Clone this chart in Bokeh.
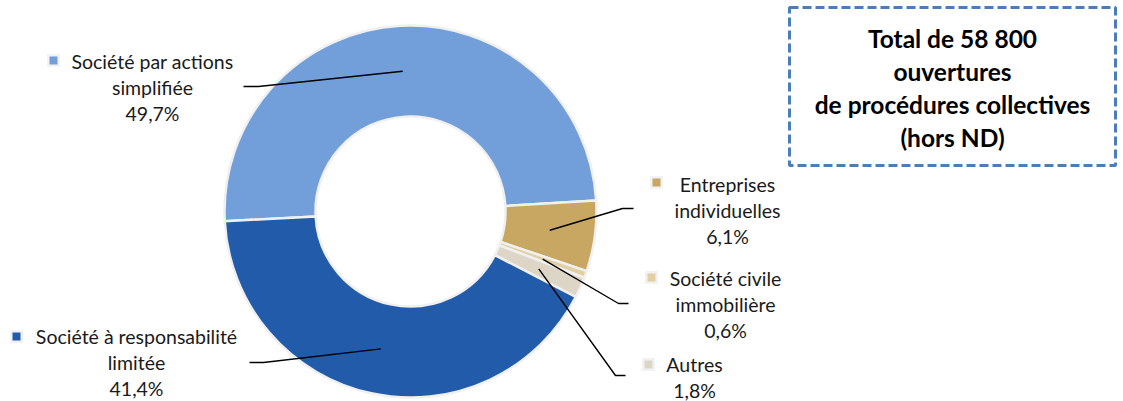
import math
from bokeh.plotting import figure
from bokeh.models import Range1d
from bokeh.embed import file_html
from bokeh.resources import INLINE
from bokeh.core.properties import value

# ---- data ----
categories = ["Société par actions simplifiée", "Entreprises individuelles",
              "Société civile immobilière", "Autres", "Société à responsabilité limitée"]
shares = [49.7, 6.1, 0.6, 1.8, 41.4]
share_labels = ["49,7%", "6,1%", "0,6%", "1,8%", "41,4%"]
label_lines = [["Société par actions", "simplifiée"],
               ["Entreprises", "individuelles"],
               ["Société civile", "immobilière"],
               ["Autres"],
               ["Société à responsabilité", "limitée"]]
colors = ["#729fd9", "#c8a762", "#e2d0a2", "#ddd6c6", "#215ba9"]
title_lines = ["Total de 58 800", "ouvertures", "de procédures collectives", "(hors ND)"]

# ---- layout (screen pixel coordinates) ----
W, H = 1123, 401
cx, cy_s = 410, 211
r_out, r_in = 186, 95
start_deg = 183.0          # first slice begins here, going clockwise
FONT = "Lato"
FS = "19.5px"

# label block: (text centre x, first-line y, marker x, marker y, elbow x, elbow y, end x)
label_pos = [
    (152, 61, 53, 60, 258, 86, 243),
    (727, 184, 656, 182, 622, 208, 633),
    (725, 278, 651, 277, 618, 303, 628),
    (694, 364, 648, 364, 615, 375, 625),
    (136, 336, 16, 336, 263, 362, 249),
]
line_gap = 26

def Y(sy):
    return H - sy

p = figure(width=W, height=H, output_backend="svg", toolbar_location=None,
           x_range=Range1d(0, W), y_range=Range1d(0, H),
           min_border=0, outline_line_color=None)
p.axis.visible = False
p.grid.visible = False
p.background_fill_color = "white"
p.border_fill_color = "white"

total = sum(shares)
cum = 0.0
mids = []
starts, ends = [], []
for s in shares:
    a0 = start_deg - cum / total * 360.0
    a1 = start_deg - (cum + s) / total * 360.0
    starts.append(math.radians(a1))
    ends.append(math.radians(a0))
    mids.append(math.radians((a0 + a1) / 2))
    cum += s

p.annular_wedge(x=[cx] * len(shares), y=[Y(cy_s)] * len(shares),
                inner_radius=r_in, outer_radius=r_out,
                start_angle=starts, end_angle=ends,
                fill_color=colors, line_color="#f0f0f0", line_width=2.5)

# leader lines
r_mid = (r_in + r_out) / 2
for i, (tx, ty, mx, my, ex, ey, endx) in enumerate(label_pos):
    ix = cx + r_mid * math.cos(mids[i])
    iy = Y(cy_s) + r_mid * math.sin(mids[i])
    p.line([ix, ex, endx], [iy, Y(ey), Y(ey)], line_color="black", line_width=1.4)

# labels
for i, (tx, ty, mx, my, ex, ey, endx) in enumerate(label_pos):
    lines = label_lines[i] + [share_labels[i]]
    ys = [Y(ty + k * line_gap) for k in range(len(lines))]
    p.text(x=[tx] * len(lines), y=ys, text=lines, text_align="center",
           text_baseline="middle", text_font=value(FONT), text_font_size=FS,
           text_color="#1a1a1a")
    p.rect(x=[mx], y=[Y(my)], width=13, height=13, fill_color="#f2f2f2", line_color=None)
    p.rect(x=[mx], y=[Y(my)], width=8, height=8, fill_color=colors[i], line_color=None)

# title box
bx0, by0, bx1, by1 = 789, 7, 1115, 165
p.rect(x=[(bx0 + bx1) / 2], y=[Y((by0 + by1) / 2)], width=bx1 - bx0, height=by1 - by0,
       fill_color="white", line_color="#4a7ebb", line_width=3, line_dash="9 4")
ty0 = 38
p.text(x=[952] * 4, y=[Y(ty0 + k * 33) for k in range(4)], text=title_lines,
       text_align="center", text_baseline="middle", text_font=value(FONT),
       text_font_style="bold", text_font_size="24.5px", text_color="black")

open("out.html", "w").write(file_html(p, INLINE))
